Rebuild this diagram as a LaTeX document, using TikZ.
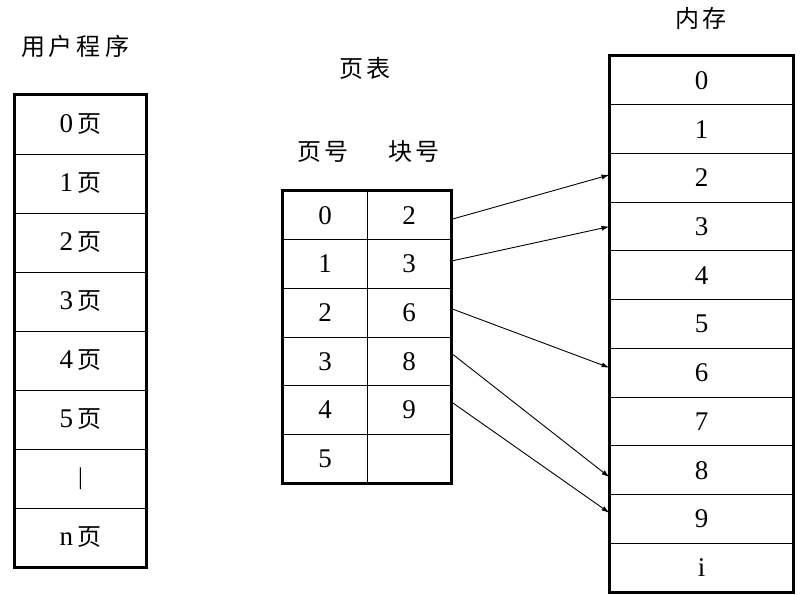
\documentclass[tikz,border=0pt]{standalone}
\usepackage{fontspec}
\setmainfont{Liberation Serif}
\newfontfamily\cjk{Noto Sans CJK SC}
\usetikzlibrary{arrows.meta}
\begin{document}
\begin{tikzpicture}[x=1pt,y=-1pt,
  cellbase/.style={draw, line width=1pt, inner sep=0pt, font=\fontsize{27}{27}\selectfont},
  ucell/.style={cellbase, minimum width=131pt, minimum height=59pt},
  pcell/.style={cellbase, minimum width=84pt, minimum height=48.67pt},
  mcell/.style={cellbase, minimum width=183pt, minimum height=48.73pt},
  title/.style={font=\cjk\fontsize{24}{24}\selectfont, inner sep=0pt},
  frame/.style={draw, line width=2.2pt},
  arr/.style={-{Latex[length=8pt,width=5pt]}, line width=0.9pt}]
\useasboundingbox (0,0) rectangle (805,594);
% titles
\node[title] (tuser) at (75,46) {用\,户\,程\,序};
\node[title] (tpt) at (365,68) {页\,表};
\node[title] (tpn) at (323,152) {页\,号};
\node[title] (tbn) at (414,152) {块\,号};
\node[title] (tmem) at (701,18) {内\,存};
% user program
\foreach \i/\t in {0/0\,{\cjk\fontsize{24}{24}\selectfont 页},1/1\,{\cjk\fontsize{24}{24}\selectfont 页},2/2\,{\cjk\fontsize{24}{24}\selectfont 页},3/3\,{\cjk\fontsize{24}{24}\selectfont 页},4/4\,{\cjk\fontsize{24}{24}\selectfont 页},5/5\,{\cjk\fontsize{24}{24}\selectfont 页},6/{\fontsize{24}{24}\selectfont|},7/n\,{\cjk\fontsize{24}{24}\selectfont 页}}
  \node[ucell] (u\i) at (80.5,{95+59*(\i+0.5)}) {\t};
\draw[frame] (u0.north west) rectangle (u7.south east);
% page table
\foreach \i/\b in {0/2,1/3,2/6,3/8,4/9,5/{}} {
  \node[pcell] (pa\i) at (325,{191+48.67*(\i+0.5)}) {\i};
  \node[pcell] (pb\i) at (409,{191+48.67*(\i+0.5)}) {\b};
}
\draw[frame] (pa0.north west) rectangle (pb5.south east);
% memory
\foreach \i/\t in {0/0,1/1,2/2,3/3,4/4,5/5,6/6,7/7,8/8,9/9,10/i}
  \node[mcell] (m\i) at (701.5,{56+48.73*(\i+0.5)}) {\t};
\draw[frame] (m0.north west) rectangle (m10.south east);
% arrows
\draw[arr] ([yshift=-4pt]pb0.east) -- ([yshift=3pt]m2.west);
\draw[arr] ([yshift=3pt]pb1.east) -- (m3.west);
\draw[arr] ([yshift=4pt]pb2.east) -- ([yshift=5pt]m6.west);
\draw[arr] ([yshift=8pt]pb3.east) -- ([yshift=-7pt]m8.west);
\draw[arr] ([yshift=8pt]pb4.east) -- ([yshift=6pt]m9.west);
\end{tikzpicture}
\end{document}
